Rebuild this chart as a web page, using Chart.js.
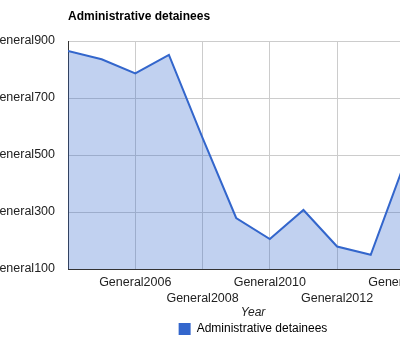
<!DOCTYPE html>
<html>
<head>
<meta charset="utf-8">
<script src="https://cdn.jsdelivr.net/npm/chart.js@4/dist/chart.umd.min.js"></script>
<style>
  html, body { margin: 0; padding: 0; background: #fff; overflow: hidden; width: 400px; height: 346px; }
  #wrap { position: absolute; left: -20px; top: 0; width: 546px; height: 346px; }
</style>
</head>
<body>
<div id="wrap"><canvas id="c" width="546" height="346"></canvas></div>
<script>
// Administrative detainees per year
const years = [2004, 2005, 2006, 2007, 2008, 2009, 2010, 2011, 2012, 2013, 2014];
const detainees = [865, 836, 786, 851, 560, 279, 205, 307, 179, 150, 470];
const yTickValues = [100, 300, 500, 700, 900];
const labelledYears = [2006, 2008, 2010, 2012, 2014];
const seriesName = 'Administrative detainees';
const chartTitle = 'Administrative detainees';

const FONT = '"Liberation Sans", Arial, sans-serif';
const BLUE = '#3366cc';

// Bold caption at the top-left, aligned with the plot area
const titlePlugin = {
  id: 'topTitle',
  afterDraw(chart) {
    const ctx = chart.ctx;
    ctx.save();
    ctx.font = 'bold 12px ' + FONT;
    ctx.fillStyle = '#000';
    ctx.textAlign = 'left';
    ctx.textBaseline = 'middle';
    ctx.fillText(chartTitle, chart.chartArea.left, 17);
    ctx.restore();
  }
};

new Chart(document.getElementById('c'), {
  type: 'line',
  data: {
    datasets: [{
      label: seriesName,
      data: years.map((y, i) => ({ x: y, y: detainees[i] })),
      borderColor: BLUE,
      backgroundColor: 'rgba(51,102,204,0.3)',
      borderWidth: 2,
      fill: 'start',
      pointRadius: 0,
      tension: 0
    }]
  },
  options: {
    responsive: false,
    animation: false,
    layout: { padding: { top: 41, right: 0, left: 0, bottom: 1 } },
    scales: {
      x: {
        type: 'linear',
        min: 2004,
        max: 2015,
        afterBuildTicks(scale) { scale.ticks = labelledYears.map(v => ({ value: v })); },
        afterFit(scale) { scale.height = 54; },
        ticks: {
          autoSkip: false,
          maxRotation: 0,
          minRotation: 0,
          padding: 6,
          color: '#222',
          font: { family: FONT, size: 12.5, lineHeight: 16 / 12.5 },
          callback(v) {
            const i = labelledYears.indexOf(v);
            if (i < 0) return '';
            return i % 2 ? ['', 'General' + v] : 'General' + v;
          }
        },
        grid: { color: '#cccccc', drawTicks: false },
        border: { color: '#333333' },
        title: {
          display: true,
          text: 'Year',
          color: '#222',
          font: { family: FONT, size: 12, style: 'italic' },
          padding: { top: 0, bottom: 3 }
        }
      },
      y: {
        min: 100,
        max: 900,
        afterBuildTicks(scale) { scale.ticks = yTickValues.map(v => ({ value: v })); },
        afterFit(scale) { scale.width = 88; },
        ticks: {
          padding: 13,
          color: '#222',
          font: { family: FONT, size: 12.5 },
          callback(v) { return 'General' + v; }
        },
        grid: { color: '#cccccc', drawTicks: false },
        border: { color: '#333333' }
      },
      // empty right-hand gutter, same width as the value axis, so the
      // legend and axis title stay centred under the plot
      gutter: {
        type: 'linear',
        position: 'right',
        display: true,
        afterFit(scale) { scale.width = 88; },
        ticks: { display: false },
        grid: { display: false, drawOnChartArea: false, drawTicks: false },
        border: { display: false }
      }
    },
    plugins: {
      title: { display: false },
      tooltip: { enabled: false },
      legend: {
        position: 'bottom',
        labels: {
          boxWidth: 12,
          boxHeight: 12,
          padding: 0,
          color: '#222',
          font: { family: FONT, size: 12 },
          generateLabels(chart) {
            return chart.data.datasets.map((ds, i) => ({
              text: ds.label,
              fillStyle: BLUE,
              strokeStyle: BLUE,
              lineWidth: 0,
              datasetIndex: i,
              hidden: false
            }));
          }
        }
      }
    }
  },
  plugins: [titlePlugin]
});
</script>
</body>
</html>
